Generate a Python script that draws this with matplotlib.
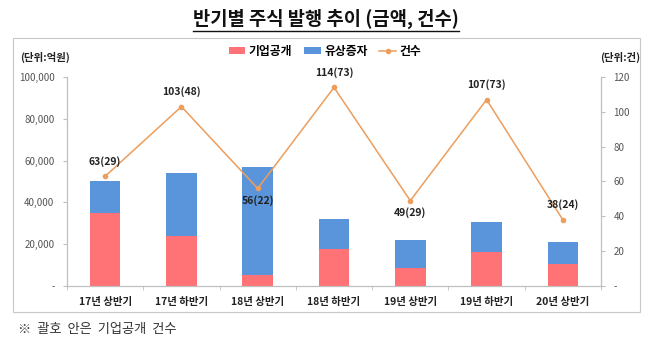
import matplotlib.pyplot as plt
import numpy as np
from matplotlib.patches import Rectangle
from matplotlib.ticker import FuncFormatter, FixedLocator

plt.rcParams['font.family'] = ['Noto Sans CJK KR', 'DejaVu Sans']

# data (amounts in 억원, counts in 건)
periods = ['17년 상반기', '17년 하반기', '18년 상반기', '18년 하반기', '19년 상반기', '19년 하반기', '20년 상반기']
ipo_amount = [35000, 23900, 5300, 17500, 8500, 16100, 10500]
rights_amount = [15000, 30300, 51700, 14400, 13500, 14700, 10700]
total_count = [63, 103, 56, 114, 49, 107, 38]
ipo_count = [29, 48, 22, 73, 29, 73, 24]
label_below = [False, False, True, False, True, False, False]

red = '#FF7377'
blue = '#5A94DB'
orange = '#ED9D5C'
grey_axis = '#BFBFBF'

fig = plt.figure(figsize=(6.47, 3.56), dpi=100)
ax = fig.add_axes([67 / 647, 1 - 286 / 356, 534 / 647, 209 / 356])
ax2 = ax.twinx()

x = np.arange(len(periods))
ax.bar(x, ipo_amount, width=0.4, color=red, label='기업공개', zorder=2)
ax.bar(x, rights_amount, width=0.4, bottom=ipo_amount, color=blue, label='유상증자', zorder=2)
ax2.plot(x, total_count, color=orange, lw=1.1, marker='o', ms=3, label='건수')

for xi, c, ic, below in zip(x, total_count, ipo_count, label_below):
    off = -5 if below else 7
    va = 'top' if below else 'bottom'
    ax2.annotate(f'{c}({ic})', (xi, c), xytext=(0, off), textcoords='offset points',
                 ha='center', va=va, fontsize=7.5, fontweight='bold', color='#222222')

ax.set_xlim(-0.5, len(periods) - 0.5)
ax.set_ylim(0, 100000)
ax2.set_ylim(0, 120)
ax.set_yticks(np.arange(0, 100001, 20000))
ax2.set_yticks(np.arange(0, 121, 20))
ax.yaxis.set_major_formatter(FuncFormatter(lambda v, p: '-' if v == 0 else f'{int(v):,}'))
ax2.yaxis.set_major_formatter(FuncFormatter(lambda v, p: '-' if v == 0 else f'{int(v)}'))

ax.set_xticks(x)
ax.set_xticklabels(periods, fontsize=7.5, fontweight='bold', color='#222222')
ax.xaxis.set_minor_locator(FixedLocator(np.arange(-0.5, len(periods), 1)))
ax.tick_params(axis='x', which='major', length=0, pad=8)
ax.tick_params(axis='x', which='minor', length=3, color=grey_axis)
ax.tick_params(axis='y', labelsize=7, colors='#555555', length=3, color=grey_axis, pad=6)
ax2.tick_params(axis='y', labelsize=7, colors='#555555', length=3, color=grey_axis, pad=6)

for a in (ax, ax2):
    a.spines['top'].set_visible(False)
    for s in ('left', 'right', 'bottom'):
        a.spines[s].set_color(grey_axis)
        a.spines[s].set_linewidth(0.8)

# legend
h1, l1 = ax.get_legend_handles_labels()
h2, l2 = ax2.get_legend_handles_labels()
fig.legend(h1 + h2, l1 + l2, loc='center', bbox_to_anchor=(325 / 647, 1 - 51 / 356), ncol=3,
           frameon=False, handlelength=1.4, handleheight=0.6, handletextpad=0.3,
           columnspacing=1.0, prop={'weight': 'bold', 'size': 8.5})

# unit labels
fig.text(20 / 647, 1 - 57 / 356, '(단위:억원)', fontsize=7.5, fontweight='bold', va='center', color='#222222')
fig.text(640 / 647, 1 - 57 / 356, '(단위:건)', fontsize=7.5, fontweight='bold', va='center', ha='right', color='#222222')

# chart frame
fig.patches.append(Rectangle((13 / 647, 1 - 312 / 356), 627 / 647, 274 / 356, transform=fig.transFigure,
                             fill=False, edgecolor='#C8C8C8', lw=0.8))

# title
title = fig.text(326 / 647, 1 - 19 / 356, '반기별 주식 발행 추이 (금액, 건수)', fontsize=13.5,
                 fontweight='bold', ha='center', va='center', color='#111111')
fig.canvas.draw()
bb = title.get_window_extent().transformed(fig.transFigure.inverted())
fig.add_artist(plt.Line2D([bb.x0, bb.x1], [bb.y0 - 0.004, bb.y0 - 0.004], color='#111111', lw=1.0))

# footnote
fig.text(18 / 647, 1 - 330 / 356, '※  괄호  안은  기업공개  건수', fontsize=9.5, va='center', color='#333333')

fig.savefig('out.png', dpi=100)
